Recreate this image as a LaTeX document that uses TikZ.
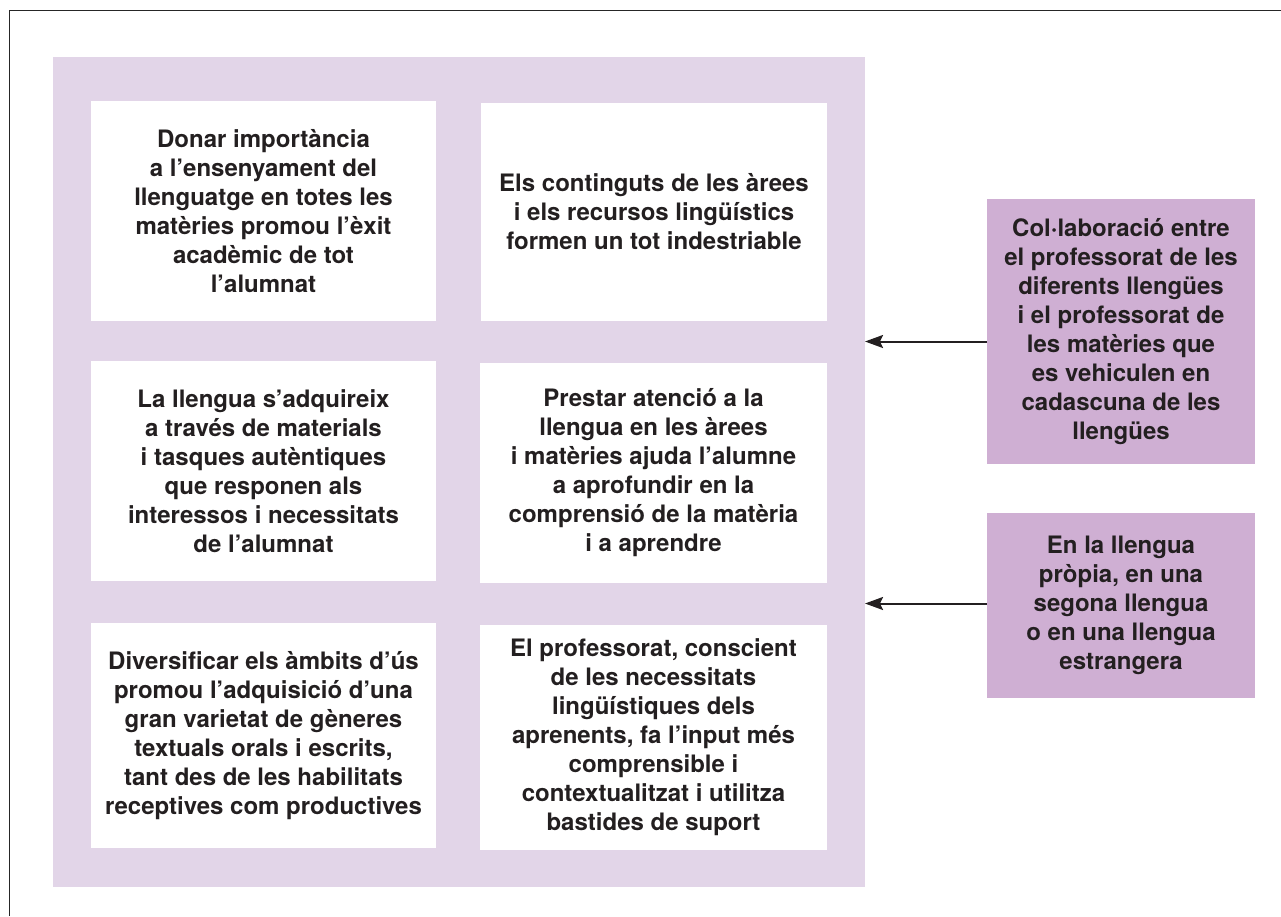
\documentclass[tikz,border=0pt]{standalone}
\usepackage{fontspec}
\setmainfont{TeX Gyre Heros}
\usetikzlibrary{arrows.meta}
\definecolor{lilapanel}{HTML}{E2D5E8}
\definecolor{lilabox}{HTML}{CFAFD3}
\definecolor{inktext}{HTML}{231F20}

\begin{document}
\begin{tikzpicture}[x=1pt, y=-1pt,
  idea/.style={rectangle, fill=white, inner sep=0pt, outer sep=0pt, anchor=north west, align=center, text=inktext, font=\bfseries\fontsize{24}{29}\selectfont},
  source/.style={idea, fill=lilabox, minimum width=268pt},
  link/.style={-{Stealth[length=18pt,width=13pt,inset=3pt]}, line width=2pt, draw=inktext}]
\useasboundingbox (0,0) rectangle (1281,916);

\draw[line width=1.5pt, draw=black!85] (9.5,916) -- (9.5,10.5) -- (1281,10.5);

\node (panel) [rectangle, fill=lilapanel, inner sep=0pt, outer sep=0pt, anchor=north west, minimum width=812pt, minimum height=830pt] at (53,57) {};

\node (donar) [idea, minimum width=345pt, minimum height=220pt] at (91,101) {Donar importància\\a l’ensenyament del\\llenguatge en totes les\\matèries promou l’èxit\\acadèmic de tot\\l’alumnat};

\node (continguts) [idea, minimum width=346pt, minimum height=218pt] at (481,103) {Els continguts de les àrees\\i els recursos lingüístics\\formen un tot indestriable};

\node (adquireix) [idea, minimum width=345pt, minimum height=220pt] at (91,361) {La llengua s’adquireix\\a través de materials\\i tasques autèntiques\\que responen als\\interessos i necessitats\\de l’alumnat};

\node (atencio) [idea, minimum width=347pt, minimum height=220pt] at (480,363) {Prestar atenció a la\\llengua en les àrees\\i matèries ajuda l’alumne\\a aprofundir en la\\comprensió de la matèria\\i a aprendre};

\node (ambits) [idea, minimum width=345pt, minimum height=225pt] at (91,623) {Diversificar els àmbits d’ús\\promou l’adquisició d’una\\gran varietat de gèneres\\textuals orals i escrits,\\tant des de les habilitats\\receptives com productives};

\node (conscient) [idea, minimum width=347pt, minimum height=225pt] at (480,625) {El professorat, conscient\\de les necessitats\\lingüístiques dels\\aprenents, fa l’input més\\comprensible i\\contextualitzat i utilitza\\bastides de suport};

\node (collab) [source, minimum height=265pt] at (987,199) {Col·laboració entre\\el professorat de les\\diferents llengües\\i el professorat de\\les matèries que\\es vehiculen en\\cadascuna de les\\llengües};

\node (propia) [source, minimum height=185pt] at (987,513) {En la llengua\\pròpia, en una\\segona llengua\\o en una llengua\\estrangera};

\draw[link] ([yshift=-10pt]collab.west) -- ([yshift=-10pt]collab.west -| panel.east);
\draw[link] ([yshift=2pt]propia.west) -- ([yshift=2pt]propia.west -| panel.east);

\end{tikzpicture}
\end{document}
